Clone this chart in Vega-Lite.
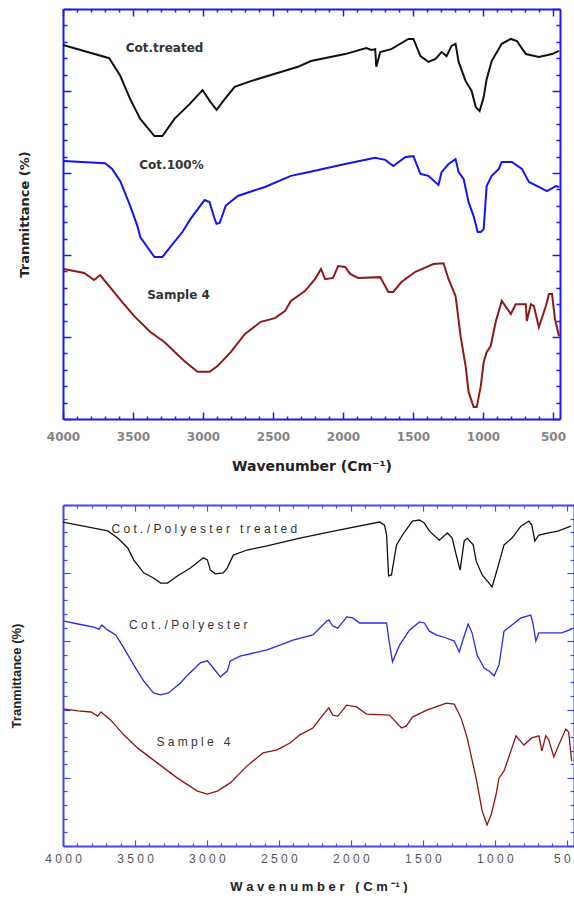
{
  "$schema": "https://vega.github.io/schema/vega-lite/v6.json",
  "padding": {"left": 10, "top": 8, "right": 0, "bottom": 0},
  "background": "white",
  "spacing": 31,
  "config": {"view": {"stroke": null}, "font": "DejaVu Sans"},
  "datasets": {
    "top": [
      {"series": "Cot.treated", "wn": 4000, "t": 91.2}, {"series": "Cot.treated", "wn": 3670, "t": 88.0}, {"series": "Cot.treated", "wn": 3591, "t": 83.7}, {"series": "Cot.treated", "wn": 3520, "t": 78.0}, {"series": "Cot.treated", "wn": 3448, "t": 73.2}, {"series": "Cot.treated", "wn": 3347, "t": 69.0}, {"series": "Cot.treated", "wn": 3290, "t": 69.0}, {"series": "Cot.treated", "wn": 3204, "t": 73.2}, {"series": "Cot.treated", "wn": 3096, "t": 76.8}, {"series": "Cot.treated", "wn": 3003, "t": 80.2}, {"series": "Cot.treated", "wn": 2946, "t": 77.3}, {"series": "Cot.treated", "wn": 2903, "t": 75.4}, {"series": "Cot.treated", "wn": 2845, "t": 78.0}, {"series": "Cot.treated", "wn": 2774, "t": 81.0}, {"series": "Cot.treated", "wn": 2659, "t": 82.4}, {"series": "Cot.treated", "wn": 2515, "t": 83.9}, {"series": "Cot.treated", "wn": 2322, "t": 85.9}, {"series": "Cot.treated", "wn": 2229, "t": 87.3}, {"series": "Cot.treated", "wn": 1985, "t": 89.0}, {"series": "Cot.treated", "wn": 1834, "t": 90.5}, {"series": "Cot.treated", "wn": 1798, "t": 90.0}, {"series": "Cot.treated", "wn": 1770, "t": 90.2}, {"series": "Cot.treated", "wn": 1762, "t": 85.9}, {"series": "Cot.treated", "wn": 1734, "t": 89.5}, {"series": "Cot.treated", "wn": 1655, "t": 90.2}, {"series": "Cot.treated", "wn": 1533, "t": 92.7}, {"series": "Cot.treated", "wn": 1497, "t": 92.7}, {"series": "Cot.treated", "wn": 1447, "t": 88.5}, {"series": "Cot.treated", "wn": 1390, "t": 87.1}, {"series": "Cot.treated", "wn": 1339, "t": 87.8}, {"series": "Cot.treated", "wn": 1296, "t": 89.5}, {"series": "Cot.treated", "wn": 1260, "t": 88.5}, {"series": "Cot.treated", "wn": 1225, "t": 91.0}, {"series": "Cot.treated", "wn": 1196, "t": 91.5}, {"series": "Cot.treated", "wn": 1174, "t": 87.1}, {"series": "Cot.treated", "wn": 1124, "t": 82.4}, {"series": "Cot.treated", "wn": 1081, "t": 80.0}, {"series": "Cot.treated", "wn": 1052, "t": 76.1}, {"series": "Cot.treated", "wn": 1024, "t": 75.1}, {"series": "Cot.treated", "wn": 995, "t": 78.5}, {"series": "Cot.treated", "wn": 974, "t": 82.9}, {"series": "Cot.treated", "wn": 938, "t": 87.3}, {"series": "Cot.treated", "wn": 866, "t": 91.5}, {"series": "Cot.treated", "wn": 801, "t": 92.7}, {"series": "Cot.treated", "wn": 758, "t": 92.2}, {"series": "Cot.treated", "wn": 694, "t": 89.0}, {"series": "Cot.treated", "wn": 601, "t": 88.3}, {"series": "Cot.treated", "wn": 507, "t": 89.0}, {"series": "Cot.treated", "wn": 457, "t": 89.8},
      {"series": "Cot.100%", "wn": 4000, "t": 62.9}, {"series": "Cot.100%", "wn": 3699, "t": 62.4}, {"series": "Cot.100%", "wn": 3649, "t": 61.0}, {"series": "Cot.100%", "wn": 3591, "t": 58.0}, {"series": "Cot.100%", "wn": 3520, "t": 52.0}, {"series": "Cot.100%", "wn": 3469, "t": 47.1}, {"series": "Cot.100%", "wn": 3448, "t": 44.4}, {"series": "Cot.100%", "wn": 3347, "t": 39.5}, {"series": "Cot.100%", "wn": 3290, "t": 39.5}, {"series": "Cot.100%", "wn": 3233, "t": 42.0}, {"series": "Cot.100%", "wn": 3147, "t": 45.6}, {"series": "Cot.100%", "wn": 3089, "t": 48.8}, {"series": "Cot.100%", "wn": 2989, "t": 53.4}, {"series": "Cot.100%", "wn": 2953, "t": 52.9}, {"series": "Cot.100%", "wn": 2917, "t": 48.8}, {"series": "Cot.100%", "wn": 2903, "t": 47.6}, {"series": "Cot.100%", "wn": 2881, "t": 47.8}, {"series": "Cot.100%", "wn": 2838, "t": 52.0}, {"series": "Cot.100%", "wn": 2752, "t": 54.4}, {"series": "Cot.100%", "wn": 2558, "t": 56.6}, {"series": "Cot.100%", "wn": 2372, "t": 59.3}, {"series": "Cot.100%", "wn": 2250, "t": 60.2}, {"series": "Cot.100%", "wn": 1985, "t": 62.2}, {"series": "Cot.100%", "wn": 1770, "t": 63.7}, {"series": "Cot.100%", "wn": 1698, "t": 63.2}, {"series": "Cot.100%", "wn": 1641, "t": 61.7}, {"series": "Cot.100%", "wn": 1554, "t": 63.9}, {"series": "Cot.100%", "wn": 1497, "t": 64.1}, {"series": "Cot.100%", "wn": 1447, "t": 59.8}, {"series": "Cot.100%", "wn": 1390, "t": 59.3}, {"series": "Cot.100%", "wn": 1318, "t": 57.1}, {"series": "Cot.100%", "wn": 1296, "t": 60.2}, {"series": "Cot.100%", "wn": 1246, "t": 62.2}, {"series": "Cot.100%", "wn": 1196, "t": 63.4}, {"series": "Cot.100%", "wn": 1174, "t": 60.2}, {"series": "Cot.100%", "wn": 1138, "t": 58.5}, {"series": "Cot.100%", "wn": 1103, "t": 52.9}, {"series": "Cot.100%", "wn": 1067, "t": 49.5}, {"series": "Cot.100%", "wn": 1038, "t": 45.6}, {"series": "Cot.100%", "wn": 1016, "t": 45.6}, {"series": "Cot.100%", "wn": 995, "t": 46.3}, {"series": "Cot.100%", "wn": 974, "t": 56.8}, {"series": "Cot.100%", "wn": 938, "t": 59.3}, {"series": "Cot.100%", "wn": 887, "t": 61.0}, {"series": "Cot.100%", "wn": 866, "t": 62.7}, {"series": "Cot.100%", "wn": 794, "t": 62.7}, {"series": "Cot.100%", "wn": 722, "t": 61.0}, {"series": "Cot.100%", "wn": 672, "t": 57.8}, {"series": "Cot.100%", "wn": 601, "t": 56.6}, {"series": "Cot.100%", "wn": 543, "t": 55.6}, {"series": "Cot.100%", "wn": 479, "t": 56.8}, {"series": "Cot.100%", "wn": 457, "t": 56.6},
      {"series": "Sample 4 (cotton)", "wn": 3993, "t": 36.6}, {"series": "Sample 4 (cotton)", "wn": 3849, "t": 35.6}, {"series": "Sample 4 (cotton)", "wn": 3778, "t": 33.9}, {"series": "Sample 4 (cotton)", "wn": 3735, "t": 35.1}, {"series": "Sample 4 (cotton)", "wn": 3670, "t": 32.4}, {"series": "Sample 4 (cotton)", "wn": 3577, "t": 28.5}, {"series": "Sample 4 (cotton)", "wn": 3491, "t": 25.1}, {"series": "Sample 4 (cotton)", "wn": 3376, "t": 21.2}, {"series": "Sample 4 (cotton)", "wn": 3276, "t": 18.8}, {"series": "Sample 4 (cotton)", "wn": 3132, "t": 14.1}, {"series": "Sample 4 (cotton)", "wn": 3039, "t": 11.5}, {"series": "Sample 4 (cotton)", "wn": 2953, "t": 11.5}, {"series": "Sample 4 (cotton)", "wn": 2896, "t": 12.9}, {"series": "Sample 4 (cotton)", "wn": 2802, "t": 16.3}, {"series": "Sample 4 (cotton)", "wn": 2702, "t": 20.7}, {"series": "Sample 4 (cotton)", "wn": 2587, "t": 23.7}, {"series": "Sample 4 (cotton)", "wn": 2487, "t": 24.6}, {"series": "Sample 4 (cotton)", "wn": 2415, "t": 26.3}, {"series": "Sample 4 (cotton)", "wn": 2372, "t": 28.8}, {"series": "Sample 4 (cotton)", "wn": 2272, "t": 31.2}, {"series": "Sample 4 (cotton)", "wn": 2200, "t": 34.1}, {"series": "Sample 4 (cotton)", "wn": 2157, "t": 36.6}, {"series": "Sample 4 (cotton)", "wn": 2128, "t": 34.1}, {"series": "Sample 4 (cotton)", "wn": 2071, "t": 34.4}, {"series": "Sample 4 (cotton)", "wn": 2035, "t": 37.3}, {"series": "Sample 4 (cotton)", "wn": 1985, "t": 37.1}, {"series": "Sample 4 (cotton)", "wn": 1949, "t": 35.4}, {"series": "Sample 4 (cotton)", "wn": 1892, "t": 34.4}, {"series": "Sample 4 (cotton)", "wn": 1734, "t": 34.6}, {"series": "Sample 4 (cotton)", "wn": 1676, "t": 31.0}, {"series": "Sample 4 (cotton)", "wn": 1641, "t": 31.0}, {"series": "Sample 4 (cotton)", "wn": 1583, "t": 33.4}, {"series": "Sample 4 (cotton)", "wn": 1483, "t": 35.9}, {"series": "Sample 4 (cotton)", "wn": 1354, "t": 37.8}, {"series": "Sample 4 (cotton)", "wn": 1282, "t": 38.0}, {"series": "Sample 4 (cotton)", "wn": 1246, "t": 34.1}, {"series": "Sample 4 (cotton)", "wn": 1196, "t": 30.0}, {"series": "Sample 4 (cotton)", "wn": 1160, "t": 20.2}, {"series": "Sample 4 (cotton)", "wn": 1124, "t": 12.9}, {"series": "Sample 4 (cotton)", "wn": 1103, "t": 6.6}, {"series": "Sample 4 (cotton)", "wn": 1067, "t": 2.9}, {"series": "Sample 4 (cotton)", "wn": 1045, "t": 2.9}, {"series": "Sample 4 (cotton)", "wn": 1016, "t": 8.0}, {"series": "Sample 4 (cotton)", "wn": 995, "t": 13.9}, {"series": "Sample 4 (cotton)", "wn": 974, "t": 16.3}, {"series": "Sample 4 (cotton)", "wn": 945, "t": 17.8}, {"series": "Sample 4 (cotton)", "wn": 909, "t": 23.7}, {"series": "Sample 4 (cotton)", "wn": 866, "t": 28.8}, {"series": "Sample 4 (cotton)", "wn": 801, "t": 25.6}, {"series": "Sample 4 (cotton)", "wn": 766, "t": 28.0}, {"series": "Sample 4 (cotton)", "wn": 694, "t": 28.0}, {"series": "Sample 4 (cotton)", "wn": 687, "t": 23.9}, {"series": "Sample 4 (cotton)", "wn": 658, "t": 28.0}, {"series": "Sample 4 (cotton)", "wn": 637, "t": 27.6}, {"series": "Sample 4 (cotton)", "wn": 601, "t": 22.4}, {"series": "Sample 4 (cotton)", "wn": 550, "t": 27.6}, {"series": "Sample 4 (cotton)", "wn": 529, "t": 30.5}, {"series": "Sample 4 (cotton)", "wn": 507, "t": 30.5}, {"series": "Sample 4 (cotton)", "wn": 486, "t": 24.4}, {"series": "Sample 4 (cotton)", "wn": 457, "t": 20.2}
    ],
    "topLabels": [
      {"label": "Cot.treated", "wn": 3275, "t": 90.5},
      {"label": "Cot.100%", "wn": 3225, "t": 62.0},
      {"label": "Sample 4", "wn": 3175, "t": 30.2}
    ],
    "bottom": [
      {"series": "Cot./Polyester treated", "wn": 4000, "t": 95.0}, {"series": "Cot./Polyester treated", "wn": 3689, "t": 92.4}, {"series": "Cot./Polyester treated", "wn": 3620, "t": 90.3}, {"series": "Cot./Polyester treated", "wn": 3550, "t": 87.4}, {"series": "Cot./Polyester treated", "wn": 3509, "t": 83.9}, {"series": "Cot./Polyester treated", "wn": 3440, "t": 80.1}, {"series": "Cot./Polyester treated", "wn": 3371, "t": 78.6}, {"series": "Cot./Polyester treated", "wn": 3322, "t": 77.1}, {"series": "Cot./Polyester treated", "wn": 3274, "t": 77.1}, {"series": "Cot./Polyester treated", "wn": 3205, "t": 79.2}, {"series": "Cot./Polyester treated", "wn": 3115, "t": 81.5}, {"series": "Cot./Polyester treated", "wn": 3025, "t": 84.5}, {"series": "Cot./Polyester treated", "wn": 2997, "t": 83.9}, {"series": "Cot./Polyester treated", "wn": 2976, "t": 80.9}, {"series": "Cot./Polyester treated", "wn": 2942, "t": 79.8}, {"series": "Cot./Polyester treated", "wn": 2887, "t": 80.1}, {"series": "Cot./Polyester treated", "wn": 2859, "t": 81.5}, {"series": "Cot./Polyester treated", "wn": 2817, "t": 85.3}, {"series": "Cot./Polyester treated", "wn": 2721, "t": 86.8}, {"series": "Cot./Polyester treated", "wn": 2582, "t": 88.0}, {"series": "Cot./Polyester treated", "wn": 2354, "t": 90.3}, {"series": "Cot./Polyester treated", "wn": 2077, "t": 92.7}, {"series": "Cot./Polyester treated", "wn": 1801, "t": 95.0}, {"series": "Cot./Polyester treated", "wn": 1766, "t": 94.1}, {"series": "Cot./Polyester treated", "wn": 1752, "t": 91.2}, {"series": "Cot./Polyester treated", "wn": 1738, "t": 79.2}, {"series": "Cot./Polyester treated", "wn": 1718, "t": 79.5}, {"series": "Cot./Polyester treated", "wn": 1683, "t": 88.3}, {"series": "Cot./Polyester treated", "wn": 1642, "t": 91.2}, {"series": "Cot./Polyester treated", "wn": 1573, "t": 95.3}, {"series": "Cot./Polyester treated", "wn": 1524, "t": 95.6}, {"series": "Cot./Polyester treated", "wn": 1490, "t": 94.7}, {"series": "Cot./Polyester treated", "wn": 1455, "t": 92.4}, {"series": "Cot./Polyester treated", "wn": 1386, "t": 89.7}, {"series": "Cot./Polyester treated", "wn": 1330, "t": 91.8}, {"series": "Cot./Polyester treated", "wn": 1296, "t": 90.3}, {"series": "Cot./Polyester treated", "wn": 1268, "t": 85.3}, {"series": "Cot./Polyester treated", "wn": 1241, "t": 80.9}, {"series": "Cot./Polyester treated", "wn": 1213, "t": 89.4}, {"series": "Cot./Polyester treated", "wn": 1192, "t": 90.3}, {"series": "Cot./Polyester treated", "wn": 1150, "t": 88.3}, {"series": "Cot./Polyester treated", "wn": 1130, "t": 83.6}, {"series": "Cot./Polyester treated", "wn": 1088, "t": 79.5}, {"series": "Cot./Polyester treated", "wn": 1040, "t": 77.1}, {"series": "Cot./Polyester treated", "wn": 1019, "t": 76.0}, {"series": "Cot./Polyester treated", "wn": 985, "t": 80.9}, {"series": "Cot./Polyester treated", "wn": 936, "t": 88.3}, {"series": "Cot./Polyester treated", "wn": 881, "t": 90.3}, {"series": "Cot./Polyester treated", "wn": 819, "t": 93.8}, {"series": "Cot./Polyester treated", "wn": 763, "t": 95.3}, {"series": "Cot./Polyester treated", "wn": 743, "t": 94.1}, {"series": "Cot./Polyester treated", "wn": 722, "t": 89.4}, {"series": "Cot./Polyester treated", "wn": 694, "t": 91.2}, {"series": "Cot./Polyester treated", "wn": 625, "t": 91.8}, {"series": "Cot./Polyester treated", "wn": 556, "t": 92.4}, {"series": "Cot./Polyester treated", "wn": 473, "t": 93.8},
      {"series": "Cot./Polyester", "wn": 4000, "t": 66.0}, {"series": "Cot./Polyester", "wn": 3896, "t": 65.1}, {"series": "Cot./Polyester", "wn": 3786, "t": 64.2}, {"series": "Cot./Polyester", "wn": 3751, "t": 63.6}, {"series": "Cot./Polyester", "wn": 3730, "t": 64.8}, {"series": "Cot./Polyester", "wn": 3689, "t": 63.3}, {"series": "Cot./Polyester", "wn": 3633, "t": 61.9}, {"series": "Cot./Polyester", "wn": 3578, "t": 58.1}, {"series": "Cot./Polyester", "wn": 3509, "t": 53.1}, {"series": "Cot./Polyester", "wn": 3440, "t": 48.4}, {"series": "Cot./Polyester", "wn": 3371, "t": 44.9}, {"series": "Cot./Polyester", "wn": 3322, "t": 44.3}, {"series": "Cot./Polyester", "wn": 3267, "t": 44.9}, {"series": "Cot./Polyester", "wn": 3184, "t": 47.8}, {"series": "Cot./Polyester", "wn": 3135, "t": 50.1}, {"series": "Cot./Polyester", "wn": 3046, "t": 53.7}, {"series": "Cot./Polyester", "wn": 2997, "t": 54.3}, {"series": "Cot./Polyester", "wn": 2956, "t": 52.2}, {"series": "Cot./Polyester", "wn": 2907, "t": 49.6}, {"series": "Cot./Polyester", "wn": 2859, "t": 51.3}, {"series": "Cot./Polyester", "wn": 2838, "t": 54.3}, {"series": "Cot./Polyester", "wn": 2769, "t": 55.7}, {"series": "Cot./Polyester", "wn": 2582, "t": 57.5}, {"series": "Cot./Polyester", "wn": 2402, "t": 60.4}, {"series": "Cot./Polyester", "wn": 2264, "t": 61.9}, {"series": "Cot./Polyester", "wn": 2167, "t": 66.0}, {"series": "Cot./Polyester", "wn": 2153, "t": 66.3}, {"series": "Cot./Polyester", "wn": 2126, "t": 64.5}, {"series": "Cot./Polyester", "wn": 2091, "t": 63.9}, {"series": "Cot./Polyester", "wn": 2029, "t": 67.2}, {"series": "Cot./Polyester", "wn": 1987, "t": 66.9}, {"series": "Cot./Polyester", "wn": 1939, "t": 65.4}, {"series": "Cot./Polyester", "wn": 1752, "t": 65.4}, {"series": "Cot./Polyester", "wn": 1738, "t": 61.0}, {"series": "Cot./Polyester", "wn": 1711, "t": 54.0}, {"series": "Cot./Polyester", "wn": 1662, "t": 58.9}, {"series": "Cot./Polyester", "wn": 1593, "t": 63.3}, {"series": "Cot./Polyester", "wn": 1524, "t": 65.7}, {"series": "Cot./Polyester", "wn": 1490, "t": 65.4}, {"series": "Cot./Polyester", "wn": 1455, "t": 63.0}, {"series": "Cot./Polyester", "wn": 1407, "t": 61.9}, {"series": "Cot./Polyester", "wn": 1337, "t": 61.0}, {"series": "Cot./Polyester", "wn": 1282, "t": 60.1}, {"series": "Cot./Polyester", "wn": 1247, "t": 56.9}, {"series": "Cot./Polyester", "wn": 1213, "t": 61.6}, {"series": "Cot./Polyester", "wn": 1185, "t": 65.1}, {"series": "Cot./Polyester", "wn": 1158, "t": 62.5}, {"series": "Cot./Polyester", "wn": 1123, "t": 56.0}, {"series": "Cot./Polyester", "wn": 1075, "t": 52.2}, {"series": "Cot./Polyester", "wn": 1040, "t": 51.3}, {"series": "Cot./Polyester", "wn": 1005, "t": 49.9}, {"series": "Cot./Polyester", "wn": 971, "t": 53.1}, {"series": "Cot./Polyester", "wn": 936, "t": 63.0}, {"series": "Cot./Polyester", "wn": 881, "t": 64.8}, {"series": "Cot./Polyester", "wn": 819, "t": 66.9}, {"series": "Cot./Polyester", "wn": 750, "t": 67.7}, {"series": "Cot./Polyester", "wn": 736, "t": 65.4}, {"series": "Cot./Polyester", "wn": 715, "t": 60.1}, {"series": "Cot./Polyester", "wn": 694, "t": 62.5}, {"series": "Cot./Polyester", "wn": 625, "t": 62.5}, {"series": "Cot./Polyester", "wn": 535, "t": 62.5}, {"series": "Cot./Polyester", "wn": 466, "t": 63.6},
      {"series": "Sample 4 (blend)", "wn": 4000, "t": 40.2}, {"series": "Sample 4 (blend)", "wn": 3896, "t": 39.6}, {"series": "Sample 4 (blend)", "wn": 3806, "t": 39.3}, {"series": "Sample 4 (blend)", "wn": 3758, "t": 38.1}, {"series": "Sample 4 (blend)", "wn": 3737, "t": 39.3}, {"series": "Sample 4 (blend)", "wn": 3668, "t": 36.9}, {"series": "Sample 4 (blend)", "wn": 3578, "t": 32.6}, {"series": "Sample 4 (blend)", "wn": 3481, "t": 28.7}, {"series": "Sample 4 (blend)", "wn": 3343, "t": 24.3}, {"series": "Sample 4 (blend)", "wn": 3205, "t": 19.9}, {"series": "Sample 4 (blend)", "wn": 3066, "t": 16.1}, {"series": "Sample 4 (blend)", "wn": 2997, "t": 15.2}, {"series": "Sample 4 (blend)", "wn": 2928, "t": 16.1}, {"series": "Sample 4 (blend)", "wn": 2838, "t": 18.5}, {"series": "Sample 4 (blend)", "wn": 2721, "t": 23.5}, {"series": "Sample 4 (blend)", "wn": 2610, "t": 27.3}, {"series": "Sample 4 (blend)", "wn": 2513, "t": 28.2}, {"series": "Sample 4 (blend)", "wn": 2423, "t": 30.2}, {"series": "Sample 4 (blend)", "wn": 2354, "t": 32.6}, {"series": "Sample 4 (blend)", "wn": 2264, "t": 34.6}, {"series": "Sample 4 (blend)", "wn": 2167, "t": 39.9}, {"series": "Sample 4 (blend)", "wn": 2153, "t": 40.5}, {"series": "Sample 4 (blend)", "wn": 2126, "t": 38.4}, {"series": "Sample 4 (blend)", "wn": 2091, "t": 38.1}, {"series": "Sample 4 (blend)", "wn": 2029, "t": 41.3}, {"series": "Sample 4 (blend)", "wn": 1960, "t": 40.8}, {"series": "Sample 4 (blend)", "wn": 1891, "t": 38.7}, {"series": "Sample 4 (blend)", "wn": 1732, "t": 38.4}, {"series": "Sample 4 (blend)", "wn": 1649, "t": 34.6}, {"series": "Sample 4 (blend)", "wn": 1614, "t": 35.2}, {"series": "Sample 4 (blend)", "wn": 1572, "t": 37.8}, {"series": "Sample 4 (blend)", "wn": 1469, "t": 39.9}, {"series": "Sample 4 (blend)", "wn": 1337, "t": 41.9}, {"series": "Sample 4 (blend)", "wn": 1282, "t": 41.6}, {"series": "Sample 4 (blend)", "wn": 1234, "t": 37.5}, {"series": "Sample 4 (blend)", "wn": 1192, "t": 31.7}, {"series": "Sample 4 (blend)", "wn": 1130, "t": 19.9}, {"series": "Sample 4 (blend)", "wn": 1088, "t": 10.3}, {"series": "Sample 4 (blend)", "wn": 1054, "t": 6.2}, {"series": "Sample 4 (blend)", "wn": 1026, "t": 9.1}, {"series": "Sample 4 (blend)", "wn": 992, "t": 15.0}, {"series": "Sample 4 (blend)", "wn": 971, "t": 19.9}, {"series": "Sample 4 (blend)", "wn": 936, "t": 22.0}, {"series": "Sample 4 (blend)", "wn": 888, "t": 27.9}, {"series": "Sample 4 (blend)", "wn": 853, "t": 32.3}, {"series": "Sample 4 (blend)", "wn": 798, "t": 29.6}, {"series": "Sample 4 (blend)", "wn": 743, "t": 31.7}, {"series": "Sample 4 (blend)", "wn": 694, "t": 32.3}, {"series": "Sample 4 (blend)", "wn": 673, "t": 27.9}, {"series": "Sample 4 (blend)", "wn": 646, "t": 32.3}, {"series": "Sample 4 (blend)", "wn": 625, "t": 31.1}, {"series": "Sample 4 (blend)", "wn": 590, "t": 26.1}, {"series": "Sample 4 (blend)", "wn": 556, "t": 29.6}, {"series": "Sample 4 (blend)", "wn": 507, "t": 34.3}, {"series": "Sample 4 (blend)", "wn": 487, "t": 33.4}, {"series": "Sample 4 (blend)", "wn": 466, "t": 24.9}
    ],
    "bottomLabels": [
      {"label": "C o t . / P o l y e s t e r \u00a0 t r e a t e d", "wn": 3018, "t": 93.0},
      {"label": "C o t . / P o l y e s t e r", "wn": 3129, "t": 64.8},
      {"label": "S a m p l e \u00a0 4", "wn": 3094, "t": 30.5}
    ]
  },
  "vconcat": [
    {
      "width": 497,
      "height": 410,
      "layer": [
        {
          "data": {"name": "top"},
          "mark": {"type": "line", "strokeWidth": 2, "clip": true},
          "encoding": {
            "x": {"field": "wn", "type": "quantitative", "scale": {"domain": [4000, 450], "nice": false, "zero": false},
              "axis": {"orient": "bottom", "values": [4000,3900,3800,3700,3600,3500,3400,3300,3200,3100,3000,2900,2800,2700,2600,2500,2400,2300,2200,2100,2000,1900,1800,1700,1600,1500,1400,1300,1200,1100,1000,900,800,700,600,500],
                "title": "Wavenumber (Cm⁻¹)", "grid": false, "labelOverlap": false, "labelFlush": false,
                "labelExpr": "datum.value % 500 === 0 ? toString(datum.value) : ''",
                "domainColor": "#1c1ce6", "domainWidth": 2, "tickColor": "#1c1ce6", "tickWidth": 1.5,
                "tickSize": {"condition": {"test": "datum.value % 500 === 0", "value": -7}, "value": -3},
                "labelFont": "DejaVu Sans", "labelFontWeight": "bold", "labelFontSize": 12, "labelColor": "#858585", "labelPadding": 19,
                "titleFont": "DejaVu Sans", "titleFontWeight": "bold", "titleFontSize": 14, "titleColor": "#222222", "titlePadding": 13}},
            "y": {"field": "t", "type": "quantitative", "scale": {"domain": [0, 100], "nice": false, "zero": false},
              "axis": {"orient": "left", "values": [0,4,8,12,16,20,24,28,32,36,40,44,48,52,56,60,64,68,72,76,80,84,88,92,96,100],
                "labels": false, "grid": false, "title": "Tranmittance (%)",
                "domainColor": "#1c1ce6", "domainWidth": 2, "tickColor": "#1c1ce6", "tickWidth": 1.5,
                "tickSize": {"condition": {"test": "datum.value % 20 === 0", "value": -8}, "value": -4},
                "minExtent": 0, "maxExtent": 0,
                "titleFont": "DejaVu Sans", "titleFontWeight": "bold", "titleFontSize": 13, "titleColor": "#222222", "titlePadding": 32}},
            "color": {"field": "series", "type": "nominal", "legend": null,
              "scale": {"domain": ["Cot.treated", "Cot.100%", "Sample 4 (cotton)", "Cot./Polyester treated", "Cot./Polyester", "Sample 4 (blend)"],
                "range": ["#111111", "#1414ee", "#8b1a1a", "#111111", "#2a2ae6", "#8b1616"]}}
          }
        },
        {
          "data": {"name": "topLabels"},
          "mark": {"type": "text", "font": "DejaVu Sans", "fontWeight": "bold", "fontSize": 12, "color": "#333333", "baseline": "middle", "align": "center"},
          "encoding": {
            "x": {"field": "wn", "type": "quantitative",
              "axis": {"orient": "top", "values": [4000,3900,3800,3700,3600,3500,3400,3300,3200,3100,3000,2900,2800,2700,2600,2500,2400,2300,2200,2100,2000,1900,1800,1700,1600,1500,1400,1300,1200,1100,1000,900,800,700,600,500],
                "labels": false, "title": null, "grid": false,
                "domainColor": "#1c1ce6", "domainWidth": 2, "tickColor": "#1c1ce6", "tickWidth": 1.5,
                "tickSize": {"condition": {"test": "datum.value % 500 === 0", "value": -7}, "value": -3}}},
            "y": {"field": "t", "type": "quantitative",
              "axis": {"orient": "right", "values": [0,4,8,12,16,20,24,28,32,36,40,44,48,52,56,60,64,68,72,76,80,84,88,92,96,100],
                "labels": false, "title": null, "grid": false,
                "domainColor": "#1c1ce6", "domainWidth": 2, "tickColor": "#1c1ce6", "tickWidth": 1.5,
                "tickSize": {"condition": {"test": "datum.value % 20 === 0", "value": -8}, "value": -4}}},
            "text": {"field": "label", "type": "nominal"}
          }
        }
      ],
      "resolve": {"axis": {"x": "independent", "y": "independent"}}
    },
    {
      "width": 511,
      "height": 341,
      "layer": [
        {
          "data": {"name": "bottom"},
          "mark": {"type": "line", "strokeWidth": 1.3, "clip": true},
          "encoding": {
            "x": {"field": "wn", "type": "quantitative", "scale": {"domain": [4000, 450], "nice": false, "zero": false},
              "axis": {"orient": "bottom", "values": [4000,3900,3800,3700,3600,3500,3400,3300,3200,3100,3000,2900,2800,2700,2600,2500,2400,2300,2200,2100,2000,1900,1800,1700,1600,1500,1400,1300,1200,1100,1000,900,800,700,600,500],
                "title": "W a v e n u m b e r \u00a0 ( C m ⁻¹ )", "grid": false, "labelOverlap": false, "labelFlush": false,
                "labelExpr": "datum.value % 500 === 0 ? replace(toString(datum.value), regexp('(\\\\d)(?=\\\\d)', 'g'), '$1 ') : ''",
                "domainColor": "#4646ee", "domainWidth": 2, "tickColor": "#4646ee", "tickWidth": 1.2,
                "tickSize": {"condition": {"test": "datum.value % 500 === 0", "value": -6}, "value": -3},
                "labelFont": "Liberation Sans", "labelFontSize": 12, "labelColor": "#555555", "labelPadding": 13,
                "titleFont": "Liberation Sans", "titleFontWeight": "bold", "titleFontSize": 13, "titleColor": "#222222", "titlePadding": 13}},
            "y": {"field": "t", "type": "quantitative", "scale": {"domain": [0, 100], "nice": false, "zero": false},
              "axis": {"orient": "left", "values": [0,4,8,12,16,20,24,28,32,36,40,44,48,52,56,60,64,68,72,76,80,84,88,92,96,100],
                "labels": false, "grid": false, "title": "Tranmittance (%)",
                "domainColor": "#4646ee", "domainWidth": 2, "tickColor": "#4646ee", "tickWidth": 1.2,
                "tickSize": {"condition": {"test": "datum.value % 20 === 0", "value": -7}, "value": -4},
                "minExtent": 0, "maxExtent": 0,
                "titleFont": "Liberation Sans", "titleFontWeight": "bold", "titleFontSize": 13, "titleColor": "#222222", "titlePadding": 40}},
            "color": {"field": "series", "type": "nominal", "legend": null,
              "scale": {"domain": ["Cot.treated", "Cot.100%", "Sample 4 (cotton)", "Cot./Polyester treated", "Cot./Polyester", "Sample 4 (blend)"],
                "range": ["#111111", "#1414ee", "#8b1a1a", "#111111", "#2a2ae6", "#8b1616"]}}
          }
        },
        {
          "data": {"name": "bottomLabels"},
          "mark": {"type": "text", "font": "Liberation Sans", "fontSize": 12, "color": "#333333", "baseline": "middle", "align": "center"},
          "encoding": {
            "x": {"field": "wn", "type": "quantitative",
              "axis": {"orient": "top", "values": [4000,3900,3800,3700,3600,3500,3400,3300,3200,3100,3000,2900,2800,2700,2600,2500,2400,2300,2200,2100,2000,1900,1800,1700,1600,1500,1400,1300,1200,1100,1000,900,800,700,600,500],
                "labels": false, "title": null, "grid": false,
                "domainColor": "#4646ee", "domainWidth": 2, "tickColor": "#4646ee", "tickWidth": 1.2,
                "tickSize": {"condition": {"test": "datum.value % 500 === 0", "value": -6}, "value": -3}}},
            "y": {"field": "t", "type": "quantitative",
              "axis": {"orient": "right", "values": [0,4,8,12,16,20,24,28,32,36,40,44,48,52,56,60,64,68,72,76,80,84,88,92,96,100],
                "labels": false, "title": null, "grid": false,
                "domainColor": "#4646ee", "domainWidth": 2, "tickColor": "#4646ee", "tickWidth": 1.2,
                "tickSize": {"condition": {"test": "datum.value % 20 === 0", "value": -7}, "value": -4}}},
            "text": {"field": "label", "type": "nominal"}
          }
        }
      ],
      "resolve": {"axis": {"x": "independent", "y": "independent"}}
    }
  ]
}
